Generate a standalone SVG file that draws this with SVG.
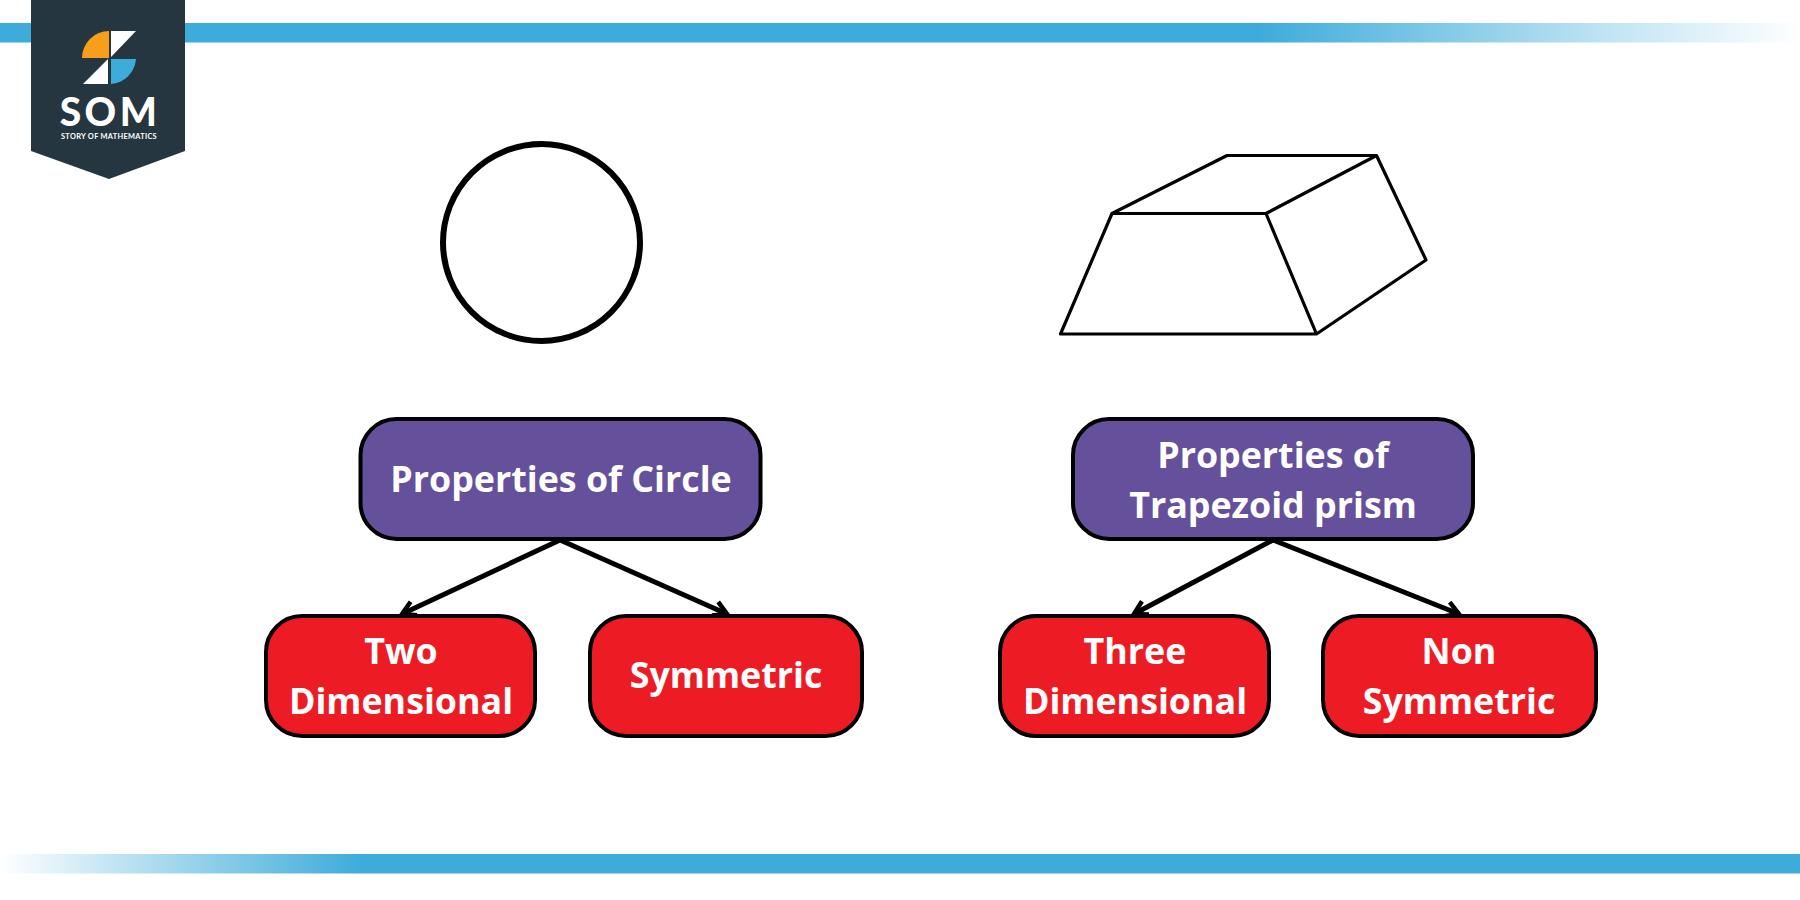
<svg xmlns="http://www.w3.org/2000/svg" width="1800" height="900" viewBox="0 0 1800 900">
<style>
.box{stroke:#000;stroke-width:4}
.purple{fill:#65509c}
.red{fill:#ed1c24}
.lbl{font-family:"Open Sans","Noto Sans",sans-serif;font-weight:700;font-size:35.8px;fill:#fff;text-anchor:middle}
.shape{fill:#fff;stroke:#000}
.conn{fill:none;stroke:#000;stroke-width:5}
</style>
<defs>
<linearGradient id="fadeR" x1="0" x2="1" y1="0" y2="0"><stop offset="0.7" stop-color="#3eacdb"/><stop offset="0.9" stop-color="#3eacdb" stop-opacity="0.3"/><stop offset="1" stop-color="#3eacdb" stop-opacity="0"/></linearGradient>
<linearGradient id="fadeL" x1="0" x2="1" y1="0" y2="0"><stop offset="0" stop-color="#3eacdb" stop-opacity="0"/><stop offset="0.2" stop-color="#3eacdb"/></linearGradient>
<marker id="arr" viewBox="0 0 22 22" refX="19" refY="11" markerWidth="22" markerHeight="22" markerUnits="userSpaceOnUse" orient="auto"><path d="M6 3.500L19 11L6 18.500" fill="none" stroke="#000" stroke-width="4.500"/></marker>
</defs>
<rect width="1800" height="900" fill="#fff"/>
<rect id="bar-top" x="0" y="23" width="1800" height="19.500" fill="url(#fadeR)"/>
<rect id="bar-bottom" x="0" y="854" width="1800" height="19.500" fill="url(#fadeL)"/>
<g id="logo">
<polygon points="31,0 185,0 185,151 109,179 31,151" fill="#263640"/>
<path d="M109 31A27 27 0 0 0 82 58H109Z" fill="#f79e1b"/>
<path d="M111 31H136L111 57Z" fill="#fff"/>
<path d="M111 59H136A27 27 0 0 1 111 84Z" fill="#3eacdb"/>
<path d="M108 59V84H83Z" fill="#fff"/>
<text x="110" y="126" font-family="Lato,'Open Sans',sans-serif" font-weight="900" font-size="39" letter-spacing="3.500" fill="#fff" text-anchor="middle">SOM</text>
<text x="109" y="139" font-family="Lato,'Open Sans',sans-serif" font-weight="700" font-size="7.400" letter-spacing="0.300" fill="#fff" text-anchor="middle">STORY OF MATHEMATICS</text>
</g>
<g id="circle"><circle class="shape" cx="541.500" cy="242.500" r="98.500" stroke-width="6"/></g>
<g id="prism" class="shape" stroke-width="3.200" stroke-linejoin="round">
<path d="M1060.500 334L1112 213.500L1227 155.500H1376.500L1426 260L1316.500 334Z"/>
<path d="M1112 213.500H1266L1376.500 155.500M1266 213.500L1316.500 334" fill="none"/>
</g>
<g id="connectors">
<path class="conn" marker-end="url(#arr)" d="M560 540L402 614"/>
<path class="conn" marker-end="url(#arr)" d="M560 540L727 614"/>
<path class="conn" marker-end="url(#arr)" d="M1273 540L1134 614"/>
<path class="conn" marker-end="url(#arr)" d="M1273 540L1459 614"/>
</g>
<g id="n-circle"><rect class="box purple" x="360.500" y="419" width="400" height="120" rx="36"/><text class="lbl" x="561" y="491.500">Properties of Circle</text></g>
<g id="n-prism"><rect class="box purple" x="1073" y="419" width="400" height="120" rx="36"/><text class="lbl" x="1273" y="467.500">Properties of</text><text class="lbl" x="1273" y="518">Trapezoid prism</text></g>
<g id="n-two"><rect class="box red" x="266" y="616" width="269" height="120" rx="36"/><text class="lbl" x="401" y="664">Two</text><text class="lbl" x="401" y="714">Dimensional</text></g>
<g id="n-sym"><rect class="box red" x="590" y="616" width="272" height="120" rx="36"/><text class="lbl" x="726" y="688">Symmetric</text></g>
<g id="n-three"><rect class="box red" x="1000" y="616" width="269" height="120" rx="36"/><text class="lbl" x="1135" y="664">Three</text><text class="lbl" x="1135" y="714">Dimensional</text></g>
<g id="n-non"><rect class="box red" x="1323" y="616" width="273" height="120" rx="36"/><text class="lbl" x="1459" y="664">Non</text><text class="lbl" x="1459" y="714">Symmetric</text></g>
</svg>
